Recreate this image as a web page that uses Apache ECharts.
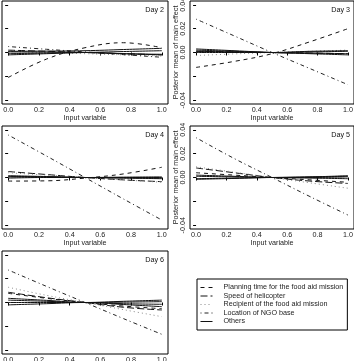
<!DOCTYPE html>
<html>
<head>
<meta charset="utf-8">
<script src="https://cdn.jsdelivr.net/npm/echarts@6/dist/echarts.min.js"></script>
<style>
  html, body { margin: 0; padding: 0; background: #fff; }
  #chart { width: 354px; height: 361px; }
</style>
</head>
<body>
<div id="chart"></div>
<script>
// ---- data ----
const xVals = [0, 0.25, 0.5, 0.75, 1];
const xTicks = [0, 0.2, 0.4, 0.6, 0.8, 1.0];
const yTicks = [-0.04, -0.02, 0, 0.02, 0.04];
const yTickLabels = [-0.04, 0, 0.02, 0.04];
const dayTitles = ['Day 2', 'Day 3', 'Day 4', 'Day 5', 'Day 6'];
const seriesNames = ['Planning time for the food aid mission', 'Speed of helicopter',
  'Recipient of the food aid mission', 'Location of NGO base', 'Others'];

const planningD2 = [-0.021, -0.0055, 0.004, 0.0082, 0.004];
const speedD2 = [0.002, 0.001, 0.0, -0.001, -0.002];
const recipientD2 = [0.001, 0.0, -0.001, -0.002, -0.003];
const locationD2 = [0.005, 0.0027, 0.0005, -0.0018, -0.004];
const othersD2 = [
  [0.001, 0.0012, 0.0015, 0.0025, 0.0035],
  [-0.001, -0.0005, 0.0, 0.0008, 0.0015],
  [-0.002, -0.001, 0.0, -0.001, -0.0015],
  [0.0005, 0.0003, 0.0, -0.001, -0.002]
];

const planningD3 = [-0.0125, -0.0075, -0.001, 0.009, 0.020];
const speedD3 = [0.001, 0.0005, 0.0, -0.0005, -0.001];
const recipientD3 = [-0.0025, -0.0012, 0.0, 0.001, 0.002];
const locationD3 = [0.028, 0.014, 0.0, -0.0135, -0.027];
const othersD3 = [
  [0.003, 0.0015, 0.0, -0.001, -0.002],
  [0.002, 0.001, 0.0, -0.0005, -0.001],
  [0.0, 0.0, 0.0, 0.001, 0.0015],
  [0.001, 0.0005, 0.0, 0.0005, 0.001]
];

const planningD4 = [-0.003, -0.0028, -0.0005, 0.003, 0.0086];
const speedD4 = [0.005, 0.0025, 0.0, -0.002, -0.0035];
const recipientD4 = [0.004, 0.002, 0.0, -0.002, -0.004];
const locationD4 = [0.0357, 0.018, 0.0, -0.018, -0.0357];
const othersD4 = [
  [0.001, 0.0005, 0.0, 0.0, 0.0],
  [0.0005, 0.0003, 0.0, -0.0003, -0.0005],
  [-0.0005, 0.0, 0.0, 0.0003, 0.0005],
  [0.0015, 0.0008, 0.0, -0.0005, -0.001]
];

const planningD5 = [0.004, 0.002, 0.0, -0.002, -0.004];
const speedD5 = [0.008, 0.004, 0.0, -0.003, -0.005];
const recipientD5 = [0.009, 0.0045, 0.0, -0.0045, -0.009];
const locationD5 = [0.0334, 0.016, 0.0, -0.016, -0.0315];
const othersD5 = [
  [0.001, 0.0005, 0.0, 0.0005, 0.001],
  [-0.001, -0.0005, 0.0, 0.0005, 0.0015],
  [0.002, 0.001, 0.0, -0.0005, -0.001],
  [-0.0015, -0.0008, 0.0, 0.0, 0.0005]
];

const planningD6 = [0.0077, 0.0035, 0.0, -0.003, -0.0052];
const speedD6 = [0.0086, 0.004, 0.0, -0.004, -0.0063];
const recipientD6 = [0.0128, 0.006, 0.0, -0.006, -0.0119];
const locationD6 = [0.0273, 0.0135, 0.0, -0.0135, -0.0267];
const othersD6 = [
  [0.0035, 0.0018, 0.0, 0.001, 0.002],
  [0.002, 0.001, 0.0, 0.0003, 0.0007],
  [0.0, 0.0, 0.0, -0.001, -0.0015],
  [-0.002, -0.001, 0.0, -0.0017, -0.0035]
];

const days = [
  [planningD2, speedD2, recipientD2, locationD2, othersD2],
  [planningD3, speedD3, recipientD3, locationD3, othersD3],
  [planningD4, speedD4, recipientD4, locationD4, othersD4],
  [planningD5, speedD5, recipientD5, locationD5, othersD5],
  [planningD6, speedD6, recipientD6, locationD6, othersD6]
];

// ---- styles / layout ----
const FONT = 'Liberation Sans, Arial, Helvetica, sans-serif';
const FS = 7.2;
const styles = [
  { color: '#111', width: 1, type: [4, 4] },
  { color: '#111', width: 1, type: [7, 3] },
  { color: '#888', width: 1, type: [1, 3] },
  { color: '#222', width: 1, type: [1, 3, 4, 3] },
  { color: '#111', width: 1, type: 'solid' }
];
const gridPos = [
  { left: 2, top: 1 }, { left: 190, top: 1 },
  { left: 2, top: 126 }, { left: 190, top: 126 },
  { left: 2, top: 251 }
];
const gridW = [166, 164, 166, 164, 166];
const GH = 103;

const grids = [], xAxes = [], yAxes = [], series = [], titles = [];
gridPos.forEach((p, i) => {
  grids.push({ left: p.left, top: p.top, width: gridW[i], height: GH, show: true,
    containLabel: false, outerBoundsMode: 'none',
    borderColor: '#000', borderWidth: 1, backgroundColor: 'transparent' });
  xAxes.push({
    type: 'value', gridIndex: i, min: -0.04, max: 1.04,
    splitLine: { show: false }, axisLine: { show: false },
    axisTick: { show: true, length: 3, customValues: xTicks, lineStyle: { color: '#000' } },
    axisLabel: { customValues: xTicks, formatter: v => v.toFixed(1), fontSize: FS,
      fontFamily: FONT, color: '#222', margin: 3 },
    name: 'Input variable', nameLocation: 'middle', nameGap: 10,
    nameTextStyle: { fontSize: FS, fontFamily: FONT, color: '#222' }
  });
  yAxes.push({
    type: 'value', gridIndex: i, min: -0.0432, max: 0.0432,
    splitLine: { show: false }, axisLine: { show: false },
    axisTick: { show: true, length: 3, customValues: yTicks, lineStyle: { color: '#000' } },
    axisLabel: { customValues: yTickLabels, formatter: v => v.toFixed(2), rotate: 90,
      fontSize: FS, fontFamily: FONT, color: '#222', margin: 3 },
    name: 'Posterior mean of main effect', nameLocation: 'middle', nameGap: 10, nameRotate: 90,
    nameTextStyle: { fontSize: FS, fontFamily: FONT, color: '#222' }
  });
  titles.push({ text: dayTitles[i], right: 354 - (p.left + gridW[i] - 4), top: p.top + 6,
    padding: 0, textStyle: { fontSize: FS, fontFamily: FONT, color: '#111', fontWeight: 'normal' } });
  days[i].forEach((arr, k) => {
    const lines = k === 4 ? arr : [arr];
    lines.forEach(vals => {
      series.push({
        type: 'line', name: seriesNames[k], xAxisIndex: i, yAxisIndex: i,
        data: xVals.map((x, j) => [x, vals[j]]),
        color: styles[k].color,
        itemStyle: { color: styles[k].color },
        symbol: 'none', showSymbol: false, smooth: 0.4, silent: true, animation: false,
        lineStyle: Object.assign({}, styles[k])
      });
    });
  });
});

const chart = echarts.init(document.getElementById('chart'), null, { renderer: 'canvas' });
chart.setOption({
  animation: false,
  title: titles,
  grid: grids,
  xAxis: xAxes,
  yAxis: yAxes,
  legend: {
    data: seriesNames, orient: 'vertical', left: 197, top: 279,
    itemWidth: 12, itemHeight: 7, itemGap: 1.5, padding: [5, 4, 5, 3],
    borderColor: '#000', borderWidth: 1, borderRadius: 0, selectedMode: false,
    itemStyle: { opacity: 0 },
    lineStyle: { width: 1 },
    textStyle: { fontSize: FS, fontFamily: FONT, color: '#222', padding: [0, 0, 0, 6] }
  },
  series: series
});
</script>
</body>
</html>
